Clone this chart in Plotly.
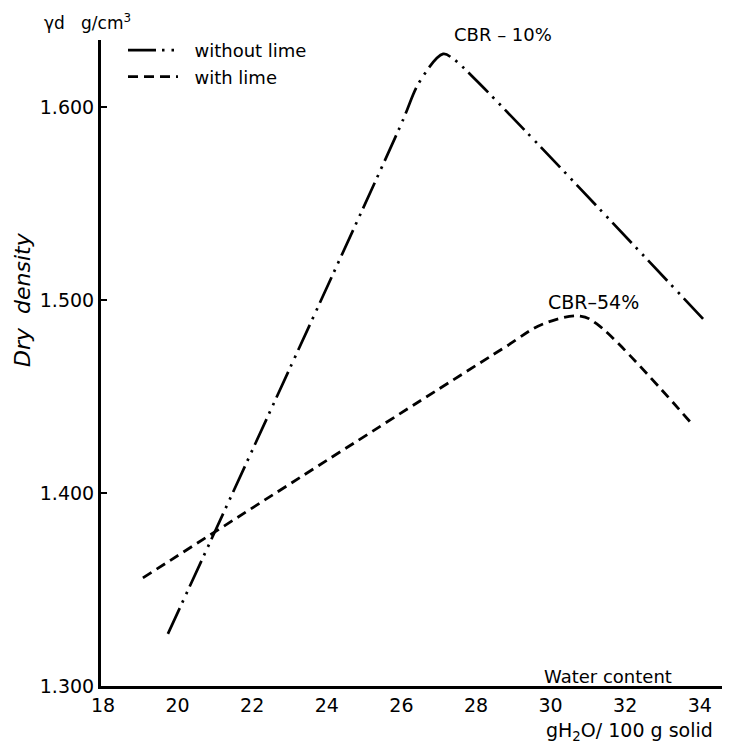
import plotly.graph_objects as go

# Data
water_without_lime = [19.74, 25.96, 26.50, 27.12, 27.36, 27.97, 34.09]
density_without_lime = [1.327, 1.5896, 1.6135, 1.6275, 1.6254, 1.6145, 1.4902]

water_with_lime = [19.07, 28.70, 29.80, 30.79, 31.24, 33.79]
density_with_lime = [1.356, 1.4746, 1.4876, 1.4917, 1.4876, 1.4358]

x_ticks = [18, 20, 22, 24, 26, 28, 30, 32, 34]
y_ticks = [1.300, 1.400, 1.500, 1.600]
y_ticktext = ["1.300", "1.400", "1.500", "1.600"]

FONT = "DejaVu Sans"
OFF = 8  # default page body margin around the plot div

fig = go.Figure()
fig.add_trace(go.Scatter(
    x=water_without_lime, y=density_without_lime, mode="lines",
    name="\u00a0\u00a0without lime",
    line=dict(color="black", width=2.7, dash="28px,6px,2.5px,7px,2.5px,6px"),
    line_shape="spline"
))
fig.add_trace(go.Scatter(
    x=water_with_lime, y=density_with_lime, mode="lines",
    name="\u00a0\u00a0with lime",
    line=dict(color="black", width=2.8, dash="10px,6px"),
    line_shape="spline"
))

W, H = 722, 735
L, R, T, B = 93, 2, 32, 57
pw, ph = W - L - R, H - T - B

def fx(page_x):
    return (page_x - OFF - L) / pw

def fy(page_y):
    return (H - B - (page_y - OFF)) / ph

def ann(text, px, py, size, xanchor="center", **kw):
    return dict(text=text, x=fx(px), y=fy(py), xref="paper", yref="paper",
                xanchor=xanchor, yanchor="middle", showarrow=False,
                font=dict(size=size, family=FONT, color="black"), **kw)

annotations = [
    ann("CBR – 10%", 503, 35, 18),
    ann("CBR–54%", 593, 302, 19),
    ann("Water content", 608, 676, 18),
    ann("gH<sub>2</sub>O/ 100 g solid", 629, 731, 19),
    ann("γd&nbsp;&nbsp; g/cm<sup>3</sup>", 42, 22, 17, xanchor="left"),
    ann("<i>Dry&nbsp;&nbsp;density</i>", 22, 300, 22, textangle=-90),
]

fig.update_layout(
    width=W, height=H,
    margin=dict(l=L, r=R, t=T, b=B),
    plot_bgcolor="white", paper_bgcolor="white",
    font=dict(family=FONT, color="black", size=18),
    showlegend=True,
    legend=dict(x=fx(123), y=fy(32), xanchor="left", yanchor="top",
                bgcolor="rgba(0,0,0,0)", itemwidth=50,
                font=dict(size=18, family=FONT, color="black"), tracegroupgap=0),
    annotations=annotations,
    xaxis=dict(range=[18 - 2 / 37.3, 18 + 625 / 37.3], tickvals=x_ticks, showgrid=False,
               zeroline=False, showline=True, linecolor="black", linewidth=2.5, ticks="",
               tickfont=dict(size=19, family=FONT, color="black")),
    yaxis=dict(range=[1.300, 1.300 + ph / 1930], tickvals=y_ticks, ticktext=y_ticktext,
               showgrid=False, zeroline=False, showline=True, linecolor="black", linewidth=3,
               ticks="inside", ticklen=6, tickwidth=1.5, tickcolor="black",
               tickfont=dict(size=19, family=FONT, color="black")),
)

fig.write_html("out.html")
